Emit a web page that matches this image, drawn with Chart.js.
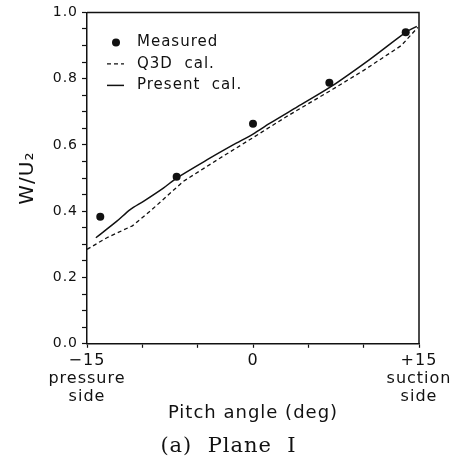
<!DOCTYPE html>
<html>
<head>
<meta charset="utf-8">
<script src="https://cdn.jsdelivr.net/npm/chart.js@4/dist/chart.umd.min.js"></script>
<style>
  html, body { margin: 0; padding: 0; background: #fff; }
  #wrap { width: 457px; height: 466px; position: relative; }
</style>
</head>
<body>
<div id="wrap"><canvas id="plane1"></canvas></div>
<script>
// --- data ---
const measuredX = [-13.8, -6.9, 0, 6.9, 13.8];
const measuredY = [0.383, 0.504, 0.664, 0.788, 0.94];

const q3dX = [-15, -13.2, -10.9, -9.3, -7.8, -6.3, -3, 0, 3, 7.2, 10, 13.4, 14.9];
const q3dY = [0.285, 0.32, 0.356, 0.40, 0.445, 0.49, 0.56, 0.622, 0.685, 0.768, 0.825, 0.90, 0.955];

const presentX = [-14.2, -12.3, -11.1, -9.9, -8.1, -6.9, -3.9, -1.8, 0, 1.5, 4, 7, 10.5, 13.8, 14.8];
const presentY = [0.32, 0.37, 0.405, 0.43, 0.47, 0.50, 0.56, 0.60, 0.633, 0.665, 0.715, 0.775, 0.857, 0.94, 0.958];

const xTickLabels = { '-15': ['\u221215', 'pressure', 'side'], '0': '0', '15': ['+15', 'suction', 'side'] };
const seriesLabels = ['Measured', 'Q3D  cal.', 'Present  cal.'];

const INK = '#111';
const toPoints = (xs, ys) => xs.map((x, i) => ({ x: x, y: ys[i] }));

// wide letter spacing like the figure font
const spacing = {
    id: 'spacing',
    beforeLayout(chart) { chart.ctx.letterSpacing = '1px'; },
    beforeDraw(chart) { chart.ctx.letterSpacing = '1px'; }
};

// closes the box: top and right edges of the plot
const frame = {
    id: 'frame',
    afterDraw(chart) {
        const { ctx, chartArea: a } = chart;
        ctx.save();
        ctx.strokeStyle = INK;
        ctx.lineWidth = 1.5;
        ctx.beginPath();
        ctx.moveTo(a.left, a.top);
        ctx.lineTo(a.right, a.top);
        ctx.lineTo(a.right, a.bottom);
        ctx.stroke();
        ctx.restore();
    }
};

// legend sits inside the plot, top-left
const insideLegend = {
    id: 'insideLegend',
    afterDraw(chart) {
        const { ctx, chartArea: a } = chart;
        ctx.save();
        ctx.font = '15px "DejaVu Sans"';
        ctx.fillStyle = INK;
        ctx.textBaseline = 'middle';
        chart.data.datasets.forEach((ds, i) => {
            const cx = a.left + 29;
            const cy = a.top + 30 + i * 21.5;
            if (ds.showLine === false) {
                ctx.beginPath();
                ctx.arc(cx, cy, ds.pointRadius, 0, Math.PI * 2);
                ctx.fill();
            } else {
                ctx.strokeStyle = ds.borderColor;
                ctx.lineWidth = ds.borderWidth;
                ctx.setLineDash(ds.borderDash || []);
                ctx.beginPath();
                ctx.moveTo(cx - 9, cy);
                ctx.lineTo(cx + 8, cy);
                ctx.stroke();
                ctx.setLineDash([]);
            }
            ctx.fillText(ds.label, a.left + 50, cy);
        });
        ctx.restore();
    }
};

new Chart(document.getElementById('plane1'), {
    type: 'scatter',
    data: {
        datasets: [
            { label: seriesLabels[0], data: toPoints(measuredX, measuredY), showLine: false,
              pointRadius: 4, pointBackgroundColor: INK, pointBorderWidth: 0 },
            { label: seriesLabels[1], data: toPoints(q3dX, q3dY), showLine: true, pointRadius: 0,
              borderColor: INK, borderWidth: 1.3, borderDash: [4, 3], tension: 0 },
            { label: seriesLabels[2], data: toPoints(presentX, presentY), showLine: true, pointRadius: 0,
              borderColor: INK, borderWidth: 1.5, tension: 0.3 }
        ]
    },
    options: {
        responsive: true,
        maintainAspectRatio: false,
        animation: false,
        layout: { padding: { top: 10, right: 0, left: 0, bottom: 0 } },
        plugins: {
            legend: { display: false },
            tooltip: { enabled: false },
            title: {
                display: true,
                position: 'bottom',
                text: '(a)  Plane  I',
                color: INK,
                font: { family: '"DejaVu Serif"', size: 21, weight: 'normal', lineHeight: 1.2 },
                padding: { top: 10, bottom: 7 }
            }
        },
        scales: {
            x: {
                type: 'linear',
                min: -15, max: 15,
                afterFit: (s) => { s.height = 80; },
                border: { display: true, color: INK, width: 1.5 },
                grid: { drawOnChartArea: false, drawTicks: true, tickLength: 4, color: INK, tickWidth: 1.2 },
                ticks: {
                    stepSize: 5, autoSkip: false, maxRotation: 0, padding: 4, color: INK,
                    font: { family: '"DejaVu Sans"', size: 16, lineHeight: 1.12 },
                    callback: (v) => xTickLabels[String(v)] || ''
                },
                title: {
                    display: true, text: 'Pitch angle (deg)', color: INK,
                    font: { family: '"DejaVu Sans"', size: 18, lineHeight: 1.2 },
                    padding: { top: 0, bottom: 0 }
                }
            },
            y: {
                min: 0, max: 1,
                afterFit: (s) => { s.width = 87; },
                border: { display: true, color: INK, width: 1.5 },
                grid: { drawOnChartArea: false, drawTicks: true, tickLength: 5, color: INK, tickWidth: 1.2 },
                ticks: {
                    stepSize: 0.05, autoSkip: false, padding: 4, color: INK,
                    font: { family: '"DejaVu Sans"', size: 14 },
                    callback: (v) => {
                        const r = Math.round(v * 100);
                        return r % 20 === 0 ? (r / 100).toFixed(1) : '';
                    }
                },
                title: {
                    display: true, text: 'W/U\u2082', color: INK,
                    font: { family: '"DejaVu Sans"', size: 20, lineHeight: 1.2 },
                    padding: { top: 16, bottom: 0 }
                }
            },
            // empty right-hand strip so the caption centres on the whole figure
            yRight: {
                position: 'right',
                min: 0, max: 1,
                afterFit: (s) => { s.width = 38; },
                border: { display: false },
                grid: { display: false },
                ticks: { display: false }
            }
        }
    },
    plugins: [spacing, frame, insideLegend]
});
</script>
</body>
</html>
